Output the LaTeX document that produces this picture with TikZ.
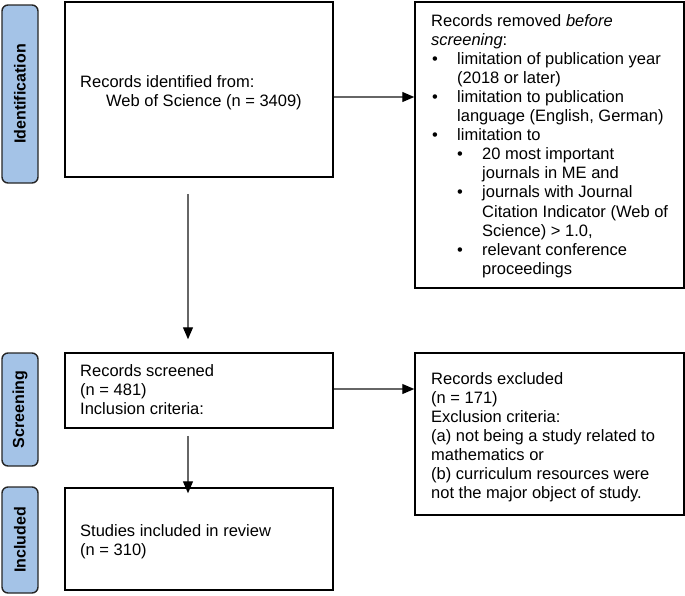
\documentclass[tikz,border=0pt]{standalone}
\usepackage{fontspec}
\setmainfont{Liberation Sans}
\usetikzlibrary{arrows.meta}
\definecolor{labblue}{RGB}{164,195,231}
\newcommand{\bulA}{\makebox[26pt][l]{\hspace{1pt}\textbullet}}
\newcommand{\contA}{\hspace*{26pt}}
\newcommand{\bulB}{\hspace*{26pt}\makebox[25pt][l]{\textbullet}}
\newcommand{\contB}{\hspace*{51pt}}
\newcommand{\txtfont}{\fontsize{16.5}{19.1}\selectfont}
\begin{document}
\begin{tikzpicture}[x=1pt,y=-1pt,
  box/.style={draw=black,line width=1.5pt,rectangle,inner sep=0pt},
  lab/.style={draw=black!85,fill=labblue,line width=1.4pt,rounded corners=6pt,inner sep=0pt,minimum width=36pt,font=\fontsize{16}{19}\selectfont\bfseries},
  txt/.style={anchor=base west,inner sep=0pt,font=\txtfont},
  arr/.style={draw=black!60,line width=1.1pt,-{Triangle[length=12pt,width=10pt,color=black]}}]
\useasboundingbox (0,0) rectangle (685,595);
% phase labels
\node[lab,minimum height=178pt] (l1) at (20,94) {\rotatebox{90}{Identification}};
\node[lab,minimum height=113pt] (l2) at (20,409.5) {\rotatebox{90}{Screening}};
\node[lab,minimum height=106pt] (l3) at (20,540) {\rotatebox{90}{Included}};
% boxes
\node[box,minimum width=268pt,minimum height=175pt] (b1) at (199,89.5) {};
\node[box,minimum width=269pt,minimum height=286pt] (b2) at (549.5,145) {};
\node[box,minimum width=268pt,minimum height=75pt] (b3) at (199,390.5) {};
\node[box,minimum width=269pt,minimum height=162pt] (b4) at (549.5,434) {};
\node[box,minimum width=268pt,minimum height=102pt] (b5) at (199,539) {};
% texts
\node[txt] (t1) at (80,87) {\begin{minipage}[t]{250pt}\txtfont\raggedright
Records identified from:\\
\contA Web of Science (n = 3409)\end{minipage}};
\node[txt] (t2) at (431,26) {\begin{minipage}[t]{252pt}\txtfont\raggedright
Records removed \textit{before}\\
\textit{screening}:\\
\bulA limitation of publication year\\
\contA (2018 or later)\\
\bulA limitation to publication\\
\contA language (English, German)\\
\bulA limitation to\\
\bulB 20 most important\\
\contB journals in ME and\\
\bulB journals with Journal\\
\contB Citation Indicator (Web of\\
\contB Science) > 1.0,\\
\bulB relevant conference\\
\contB proceedings\end{minipage}};
\node[txt] (t3) at (80,376) {\begin{minipage}[t]{250pt}\txtfont\raggedright
Records screened\\
(n = 481)\\
Inclusion criteria:\end{minipage}};
\node[txt] (t4) at (431,384) {\begin{minipage}[t]{252pt}\txtfont\raggedright
Records excluded\\
(n = 171)\\
Exclusion criteria:\\
(a) not being a study related to\\
mathematics or\\
(b) curriculum resources were\\
not the major object of study.\end{minipage}};
\node[txt] (t5) at (80,536) {\begin{minipage}[t]{250pt}\txtfont\raggedright
Studies included in review\\
(n = 310)\end{minipage}};
% connectors
\coordinate (a1) at ([yshift=-7.5pt]b1.east);
\draw[arr] (a1) -- (a1 -| b2.west);
\coordinate (a2) at ([yshift=1.5pt]b3.east);
\draw[arr] (a2) -- (a2 -| b4.west);
\coordinate (d1) at ([xshift=-11pt]b1.south);
\draw[arr,shorten <=16pt,shorten >=13pt] (d1) -- (d1 |- b3.north);
\coordinate (d2) at ([xshift=-11pt]b3.south);
\draw[arr,shorten <=7pt,shorten >=-6pt] (d2) -- (d2 |- b5.north);
\end{tikzpicture}
\end{document}
